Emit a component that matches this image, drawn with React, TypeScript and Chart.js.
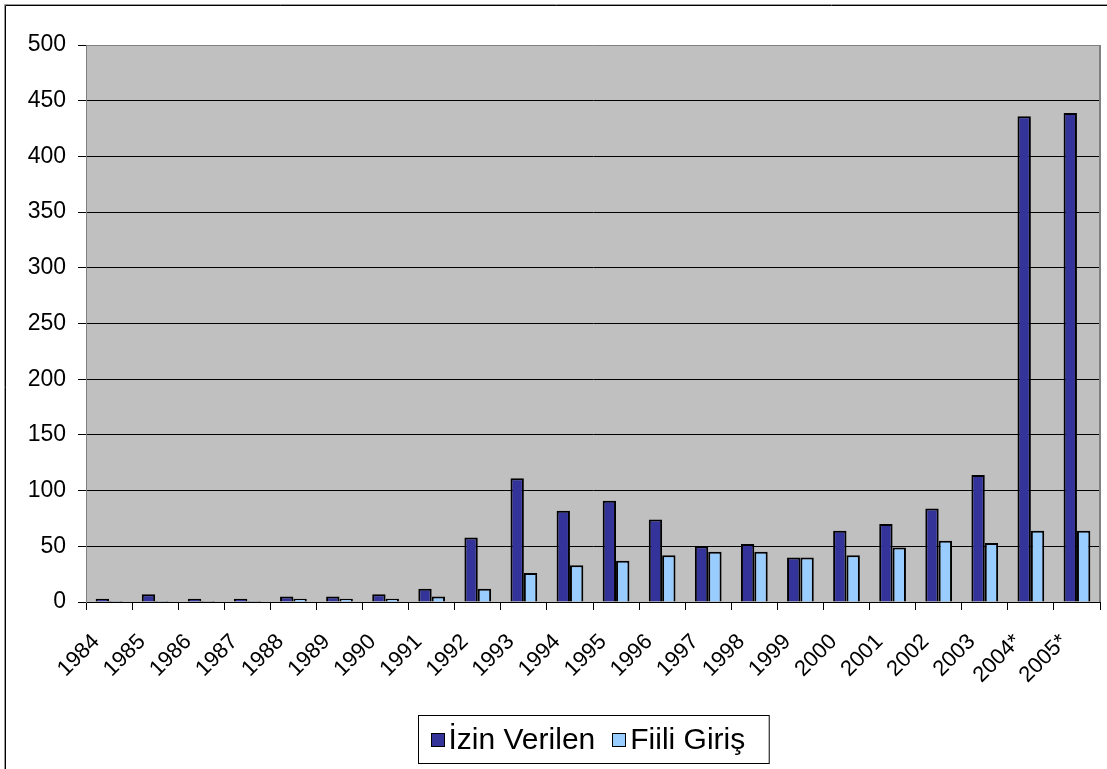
import { useEffect, useRef } from "react";
import { Chart, registerables } from "chart.js";

Chart.register(...registerables);

const categories = [
  "1984", "1985", "1986", "1987", "1988", "1989", "1990", "1991", "1992", "1993", "1994",
  "1995", "1996", "1997", "1998", "1999", "2000", "2001", "2002", "2003", "2004*", "2005*",
];
const izinVerilen = [3, 7, 3, 3, 5, 5, 7, 12, 58, 111, 82, 91, 74, 50, 52, 40, 64, 70, 84, 114, 436, 439];
const fiiliGiris = [1, 1, 1, 1, 3, 3, 3, 5, 12, 26, 33, 37, 42, 45, 45, 40, 42, 49, 55, 53, 64, 64];
const seriesLabels = ["İzin Verilen", "Fiili Giriş"];
const seriesColors = ["#333399", "#99CCFF"];
const yMin = 0;
const yMax = 500;
const yStep = 50;

const FONT = "'Liberation Sans', Arial, sans-serif";

const framePlugin = {
  id: "frame",
  beforeDraw(chart: any) {
    const { ctx, chartArea: a } = chart;
    ctx.save();
    ctx.fillStyle = "#FFFFFF";
    ctx.fillRect(0, 0, chart.width, chart.height);
    ctx.fillStyle = "#C0C0C0";
    ctx.fillRect(a.left, a.top, a.right - a.left, a.bottom - a.top);
    ctx.restore();
  },
  afterDraw(chart: any) {
    const { ctx, chartArea: a } = chart;
    ctx.save();
    // plot area right border
    ctx.strokeStyle = "#808080";
    ctx.lineWidth = 2;
    ctx.beginPath();
    ctx.moveTo(a.right, a.top);
    ctx.lineTo(a.right, a.bottom);
    ctx.stroke();
    // outer chart frame
    ctx.lineWidth = 1;
    ctx.strokeStyle = "#9A9A9A";
    ctx.beginPath();
    ctx.moveTo(4.5, chart.height);
    ctx.lineTo(4.5, 4.5);
    ctx.lineTo(chart.width, 4.5);
    ctx.stroke();
    ctx.strokeStyle = "#000000";
    ctx.beginPath();
    ctx.moveTo(5.5, chart.height);
    ctx.lineTo(5.5, 5.5);
    ctx.lineTo(chart.width, 5.5);
    ctx.stroke();

    // legend
    const ds = chart.data.datasets;
    ctx.font = `30px ${FONT}`;
    ctx.textBaseline = "middle";
    ctx.textAlign = "left";
    const sq = 14;
    const gapText = 4;
    const gapItem = 17;
    const widths = ds.map((d: any) => ctx.measureText(d.label).width);
    let content = 0;
    widths.forEach((w: number, i: number) => {
      content += sq + gapText + w + (i < widths.length - 1 ? gapItem : 0);
    });
    const padL = 12;
    const padR = 24;
    const boxW = content + padL + padR;
    const cx = (a.left + a.right) / 2;
    const boxX = Math.round(cx - boxW / 2) + 0.5;
    const boxY = 715.5;
    const boxH = 48;
    ctx.fillStyle = "#FFFFFF";
    ctx.fillRect(boxX, boxY, boxW, boxH);
    ctx.strokeStyle = "#000000";
    ctx.lineWidth = 1;
    ctx.strokeRect(boxX, boxY, boxW, boxH);
    let x = boxX + padL;
    const midY = boxY + boxH / 2;
    ds.forEach((d: any, i: number) => {
      ctx.fillStyle = d.backgroundColor;
      ctx.fillRect(Math.round(x), Math.round(midY - sq / 2), sq, sq);
      ctx.strokeStyle = "#000000";
      ctx.strokeRect(Math.round(x) + 0.5, Math.round(midY - sq / 2) + 0.5, sq - 1, sq - 1);
      x += sq + gapText;
      ctx.fillStyle = "#000000";
      ctx.fillText(d.label, x, midY + 1);
      x += widths[i] + gapItem;
    });
    ctx.restore();
  },
};

export default function App() {
  const ref = useRef<HTMLCanvasElement | null>(null);

  useEffect(() => {
    document.body.style.margin = "0";
    const canvas = ref.current;
    if (!canvas) return;
    const chart = new Chart(canvas, {
      type: "bar",
      data: {
        labels: categories,
        datasets: [
          {
            label: seriesLabels[0],
            data: izinVerilen,
            backgroundColor: seriesColors[0],
            borderColor: "#000000",
            borderWidth: 2,
            categoryPercentage: 0.58,
            barPercentage: 1,
          },
          {
            label: seriesLabels[1],
            data: fiiliGiris,
            backgroundColor: seriesColors[1],
            borderColor: "#000000",
            borderWidth: 2,
            categoryPercentage: 0.58,
            barPercentage: 1,
          },
        ],
      },
      options: {
        animation: false,
        responsive: false,
        devicePixelRatio: 1,
        layout: { padding: { left: 0, right: 7, top: 45, bottom: 67 } },
        plugins: {
          legend: { display: false },
          tooltip: { enabled: false },
        },
        scales: {
          x: {
            offset: true,
            grid: {
              offset: true,
              drawOnChartArea: false,
              drawTicks: true,
              tickLength: 8,
              color: "#000000",
              tickColor: "#000000",
            },
            border: { color: "#000000", width: 1 },
            ticks: {
              autoSkip: false,
              maxRotation: 45,
              minRotation: 45,
              padding: 19,
              labelOffset: -13,
              color: "#000000",
              font: { family: FONT, size: 22 },
            },
            afterFit: (scale: any) => {
              scale.height = 100;
              scale.paddingLeft = 0;
              scale.paddingRight = 0;
            },
          },
          y: {
            min: yMin,
            max: yMax,
            ticks: {
              stepSize: yStep,
              padding: 12,
              color: "#000000",
              font: { family: FONT, size: 23 },
            },
            grid: {
              color: (c: any) => (c.tick && c.tick.value === yMax ? "#808080" : "#000000"),
              tickColor: "#000000",
              tickLength: 8,
              lineWidth: 1,
            },
            border: { color: "#808080", width: 1 },
            afterFit: (scale: any) => {
              scale.width = 86;
            },
          },
        },
      },
      plugins: [framePlugin],
    });
    return () => chart.destroy();
  }, []);

  return (
    <div style={{ position: "absolute", left: 0, top: 0, width: 1107, height: 769 }}>
      <canvas ref={ref} width={1107} height={769} style={{ display: "block" }} />
    </div>
  );
}
